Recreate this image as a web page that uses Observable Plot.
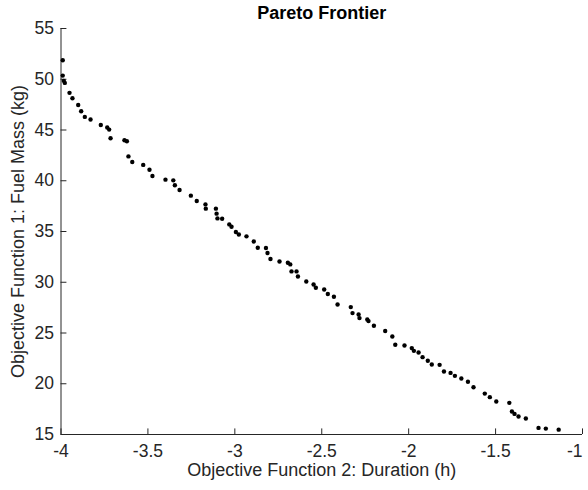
<!DOCTYPE html>
<html>
<head>
<meta charset="utf-8">
<script src="https://cdn.jsdelivr.net/npm/d3@7"></script>
<script src="https://cdn.jsdelivr.net/npm/@observablehq/plot@0.6"></script>
<style>
  html, body { margin: 0; padding: 0; background: #fff; }
  #chart svg { display: block; }
</style>
</head>
<body>
<div id="chart"></div>
<script>
// Objective 2 (duration, h) and Objective 1 (fuel mass, kg)
const duration = [
  -3.990, -3.990, -3.984, -3.978, -3.951, -3.934, -3.901, -3.884, -3.863, -3.830,
  -3.771, -3.734, -3.723, -3.715, -3.635, -3.621, -3.612, -3.590, -3.527, -3.491,
  -3.474, -3.399, -3.354, -3.345, -3.318, -3.253, -3.219, -3.169, -3.167, -3.109,
  -3.105, -3.100, -3.073, -3.032, -3.019, -2.994, -2.977, -2.933, -2.891, -2.868,
  -2.821, -2.812, -2.795, -2.743, -2.695, -2.681, -2.674, -2.645, -2.637, -2.589,
  -2.547, -2.534, -2.486, -2.465, -2.430, -2.409, -2.333, -2.323, -2.288, -2.283,
  -2.238, -2.231, -2.200, -2.135, -2.094, -2.077, -2.024, -1.982, -1.970, -1.943,
  -1.920, -1.890, -1.867, -1.822, -1.797, -1.759, -1.734, -1.697, -1.659, -1.627,
  -1.562, -1.533, -1.496, -1.421, -1.406, -1.391, -1.368, -1.326, -1.253, -1.211,
  -1.137
];
const fuelMass = [
  51.87, 50.36, 49.84, 49.64, 48.66, 48.13, 47.47, 46.85, 46.29, 46.03,
  45.50, 45.24, 45.04, 44.18, 43.99, 43.89, 42.40, 41.85, 41.56, 41.09,
  40.47, 40.11, 40.04, 39.55, 39.09, 38.53, 38.01, 37.67, 37.25, 37.25,
  36.76, 36.29, 36.26, 35.70, 35.47, 34.95, 34.71, 34.52, 34.02, 33.40,
  33.37, 32.88, 32.29, 32.05, 31.92, 31.76, 31.07, 31.07, 30.57, 30.08,
  29.78, 29.46, 29.29, 28.84, 28.57, 27.81, 27.55, 26.96, 26.82, 26.47,
  26.33, 26.17, 25.71, 25.19, 24.65, 23.84, 23.77, 23.51, 23.24, 23.08,
  22.62, 22.26, 21.89, 21.86, 21.20, 21.07, 20.78, 20.51, 20.19, 19.66,
  19.03, 18.68, 18.25, 18.12, 17.26, 17.03, 16.77, 16.57, 15.65, 15.58,
  15.48
];
const xTicks = [-4, -3.5, -3, -2.5, -2, -1.5, -1];
const xTickLabels = ["-4", "-3.5", "-3", "-2.5", "-2", "-1.5", "-1"];
const yTicks = [15, 20, 25, 30, 35, 40, 45, 50, 55];
const yTickLabels = ["15", "20", "25", "30", "35", "40", "45", "50", "55"];
const titleText = "Pareto Frontier";
const xLabel = "Objective Function 2: Duration (h)";
const yLabel = "Objective Function 1: Fuel Mass (kg)";

const points = duration.map((d, i) => ({x: d, y: fuelMass[i]}));
const xTickData = xTicks.map((v, i) => ({v, label: xTickLabels[i]}));
const yTickData = yTicks.map((v, i) => ({v, label: yTickLabels[i]}));
const xTickInner = xTickData.slice(0, -1);
const xTickLast = xTickData.slice(-1);

const axisColor = "#262626";
const font = "'Liberation Sans', Arial, Helvetica, sans-serif";
const tickFont = 17.5;

const chart = Plot.plot({
  width: 588,
  height: 490,
  marginLeft: 60.5,
  marginRight: 6,
  marginTop: 28,
  marginBottom: 56,
  style: {fontFamily: font, background: "#fff", overflow: "visible"},
  x: {domain: [-4, -1], axis: null},
  y: {domain: [15, 55], axis: null},
  marks: [
    // axis lines
    Plot.ruleY([15], {stroke: axisColor, strokeWidth: 1}),
    Plot.ruleX([-4], {stroke: axisColor, strokeWidth: 1}),
    // inward tick marks
    Plot.ruleX(xTickData, {x: "v", y1: 15, y2: 15 + 0.55, stroke: axisColor}),
    Plot.ruleY(yTickData, {y: "v", x1: -4, x2: -4 + 0.034, stroke: axisColor}),
    // tick labels
    Plot.text(xTickInner, {x: "v", y: 15, text: "label", dy: 17, lineAnchor: "middle",
      fontSize: tickFont, fill: axisColor}),
    Plot.text(xTickLast, {x: "v", y: 15, text: "label", dy: 17, dx: 0, textAnchor: "end",
      lineAnchor: "middle", fontSize: tickFont, fill: axisColor}),
    Plot.text(yTickData, {x: -4, y: "v", text: "label", dx: -7, textAnchor: "end",
      fontSize: tickFont, fill: axisColor}),
    // data
    Plot.dot(points, {x: "x", y: "y", r: 2.2, fill: "black", stroke: "none"}),
    // title and axis labels
    Plot.text([titleText], {frameAnchor: "top", dy: -10, lineAnchor: "bottom",
      fontSize: 18, fontWeight: "bold", fill: "#000"}),
    Plot.text([xLabel], {frameAnchor: "bottom", dy: 41, lineAnchor: "bottom",
      fontSize: 18, fill: axisColor}),
    Plot.text([yLabel], {frameAnchor: "left", dx: -43, rotate: -90, textAnchor: "middle",
      lineAnchor: "middle", fontSize: 18, fill: axisColor})
  ]
});
document.getElementById("chart").appendChild(chart);
</script>
</body>
</html>
